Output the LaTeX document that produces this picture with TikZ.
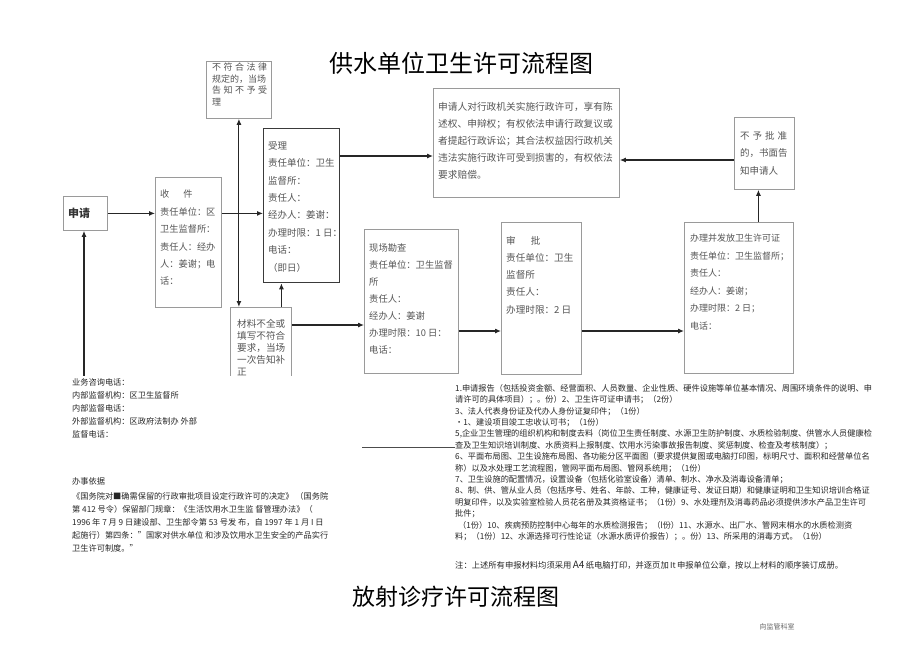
\documentclass[tikz,border=0pt]{standalone}
\usepackage{fontspec}
\setmainfont{Noto Sans CJK SC}
\usetikzlibrary{arrows.meta,calc,positioning}
\definecolor{FlowInk}{HTML}{555555}
\definecolor{FlowEdge}{HTML}{9A9A9A}
\definecolor{FlowDark}{HTML}{3A3A3A}
\newcommand{\stretchline}[2]{\makebox[#1][s]{#2}}

\begin{document}
\begin{tikzpicture}[
      x=1pt,y=-1pt,
      box/.style={draw=FlowEdge,line width=0.8pt,anchor=north west,inner sep=0pt},
      keybox/.style={draw=FlowDark,line width=1.3pt,anchor=north west,inner sep=0pt},
      boxtext/.style={anchor=north west,align=left,inner sep=0pt,text=FlowInk,
        font=\fontsize{9.5}{17.4}\selectfont},
      tighttext/.style={anchor=north west,align=left,inner sep=0pt,text=FlowInk,
        font=\fontsize{9}{11.6}\selectfont},
      flow/.style={-{Latex[length=6pt,width=5pt]},line width=1.1pt,color=black!85},
      infotext/.style={anchor=north west,align=left,inner sep=0pt,text=black!85,
        font=\fontsize{8.2}{13}\selectfont}
    ]
      \fill[white] (0,0) rectangle (920,651);
      \useasboundingbox (0,0) rectangle (920,651);

      \node[font=\fontsize{24}{24}\selectfont] (title) at (461,63) {供水单位卫生许可流程图};

      % flow boxes
      \node[box,minimum width=44,minimum height=34] (shenqing) at (63,196) {};
      \node[anchor=west,inner sep=0pt,text=black!80,font=\fontsize{11}{11}\selectfont\bfseries]
        (shenqingtext) at ($(shenqing.west)+(5,0)$) {申请};

      \node[box,minimum width=66,minimum height=130] (shoujian) at (155,177) {};
      \node[boxtext,font=\fontsize{9.2}{17.4}\selectfont] (shoujiantext)
        at ($(shoujian.north west)+(5,13)$)
        {收\hspace{14pt}件\\责任单位：区\\卫生监督所：\\责任人：经办\\人：姜谢；电\\话：};

      \node[box,minimum width=65,minimum height=57] (legal) at (206,61) {};
      \node[tighttext] (legaltext) at ($(legal.north west)+(6,2)$)
        {\stretchline{55pt}{不\hfill 符\hfill 合\hfill 法\hfill 律}\\规定的，当场\\
         \stretchline{55pt}{告\hfill 知\hfill 不\hfill 予\hfill 受}\\理};

      \node[keybox,minimum width=76,minimum height=154] (shouli) at (263,128) {};
      \node[boxtext] (shoulitext) at ($(shouli.north west)+(5,13)$)
        {受理\\责任单位：卫生\\监督所：\\责任人：\\经办人：姜谢：\\办理时限：1 日：\\电话：\\（即日）};

      \node[box,minimum width=186,minimum height=109] (shenqingren) at (433,88) {};
      \node[boxtext,font=\fontsize{9.7}{17}\selectfont] (shenqingrentext)
        at ($(shenqingren.north west)+(5,14)$)
        {申请人对行政机关实施行政许可，享有陈\\述权、申辩权；有权依法申请行政复议或\\
         者提起行政诉讼；其合法权益因行政机关\\违法实施行政许可受到损害的，有权依法\\要求赔偿。};

      \node[box,minimum width=60,minimum height=72] (buyu) at (734,117) {};
      \node[boxtext,font=\fontsize{9.5}{17.5}\selectfont] (buyutext)
        at ($(buyu.north west)+(6,14)$)
        {\stretchline{47pt}{不\hfill 予\hfill 批\hfill 准}\\的，书面告\\知申请人};

      \node[box,minimum width=94,minimum height=144] (xianchang) at (364,229) {};
      \node[boxtext,font=\fontsize{9.3}{17}\selectfont] (xianchangtext)
        at ($(xianchang.north west)+(5,14)$)
        {现场勘查\\责任单位：卫生监督\\所\\责任人：\\经办人：姜谢\\办理时限：10 日：\\电话：};

      \node[box,minimum width=80,minimum height=152] (shenpi) at (501,222) {};
      \node[boxtext,font=\fontsize{9.6}{17.2}\selectfont] (shenpitext)
        at ($(shenpi.north west)+(5,14)$)
        {审\hspace{15pt}批\\责任单位：卫生\\监督所\\责任人：\\办理时限：2 日};

      \node[box,minimum width=109,minimum height=151] (banli) at (684,222) {};
      \node[boxtext,font=\fontsize{9}{17.5}\selectfont] (banlitext)
        at ($(banli.north west)+(6,12)$)
        {办理并发放卫生许可证\\责任单位：卫生监督所；\\责任人：\\经办人：姜谢；\\办理时限：2 日；\\电话：};

      \begin{scope}
        \clip (0,0) rectangle (920,375);
        \node[box,minimum width=61,minimum height=90] (cailiao) at (230,307) {};
        \node[tighttext,font=\fontsize{9.6}{12}\selectfont] (cailiaotext)
          at ($(cailiao.north west)+(7,12)$)
          {材料不全或\\填写不符合\\要求，当场\\一次告知补\\正};
        \coordinate (applyfoot) at (84,380);
        \draw[flow] (applyfoot) -- (applyfoot |- shenqing.south);
      \end{scope}

      % connectors
      \draw[flow] (shenqing) -- (shenqing -| shoujian.west);
      \draw[flow] (shenqing -| shoujian.east) -- (shenqing -| shouli.west);
      \draw[flow,{Latex[length=6pt,width=5pt]}-{Latex[length=6pt,width=5pt]}]
        (legal.south) -- (legal.south |- cailiao.north);
      \coordinate (fixup) at ($(cailiao.north)+(20.5,0)$);
      \draw[flow] (fixup) -- (fixup |- shouli.south);
      \coordinate (fixright) at ($(cailiao.north east)+(0,18)$);
      \draw[flow] (fixright) -- (fixright -| xianchang.west);
      \coordinate (checkrow) at (0,331);
      \draw[flow] (xianchang.east |- checkrow) -- (shenpi.west |- checkrow);
      \draw[flow] (shenpi.east |- checkrow) -- (banli.west |- checkrow);
      \coordinate (rightsrow) at (0,156);
      \draw[flow] (shouli.east |- rightsrow) -- (shenqingren.west |- rightsrow);
      \coordinate (denyrow) at (0,160);
      \draw[flow] (buyu.west |- denyrow) -- (shenqingren.east |- denyrow);
      \coordinate (banliup) at ($(banli.north)+(19.5,0)$);
      \draw[flow] (banliup) -- (banliup |- buyu.south);

      % text below the flow
      \node[infotext] (contact) at (72,378)
        {业务咨询电话：\\内部监督机构：区卫生监督所\\内部监督电话：\\
         外部监督机构：区政府法制办 外部\\监督电话：};
      \node[infotext] (basis) at (72,477)
        {办事依据\\[2pt]
         《国务院对■确需保留的行政审批项目设定行政许可的决定》 （国务院\\
         第 412 号令）保留部门规章：《生活饮用水卫生监 督管理办法》（\\
         1996 年 7 月 9 日建设部、卫生部令第 53 号发 布，自 1997 年 1 月 I 日\\
         起施行）第四条：”国家对供水单位 和涉及饮用水卫生安全的产品实行\\
         卫生许可制度。”};

      \node[infotext,font=\fontsize{8.2}{11.4}\selectfont] (reqlist) at (455,384)
        {1.申请报告（包括投资金额、经营面积、人员数量、企业性质、硬件设施等单位基本情况、周围环境条件的说明、申\\
         请许可的具体项目）；。份）2、卫生许可证申请书；（2份）\\
         3、法人代表身份证及代办人身份证复印件；（1份）\\
         •1、建设项目竣工忠收认可书；（1份）\\
         5,企业卫生管理的组织机构和制度去料（岗位卫生责任制度、水源卫生防护制度、水质检验制度、供管水人员健康检\\
         查及卫生知识培训制度、水质资料上报制度、饮用水污染事故报告制度、奖惩制度、检查及考核制度）；\\
         6、平面布局图、卫生设施布局图、各功能分区平面图（要求提供复图或电脑打印图，标明尺寸、面积和经营单位名\\
         称）以及水处理工艺流程图，管网平面布局图、管网系统用；（1份）\\
         7、卫生设施的配置情况，设置设备（包括化验室设备）清单、制水、净水及消毒设备清单；\\
         8、制、供、管从业人员（包括序号、姓名、年龄、工种，健康证号、发证日期）和健康证明和卫生知识培训合格证\\
         明复印件，以及实验室检验人员花名册及其资格证书；（1份）9、水处理剂及消毒药品必须提供涉水产品卫生许可\\
         批件；\\
         \hspace{3pt}（1份）10、疾病预防控制中心每年的水质检测报告；（l份）11、水源水、出厂水、管网末梢水的水质检测资\\
         料；（1份）12、水源选择可行性论证（水源水质评价报告）；。份）13、所采用的消毒方式。（1份）};
      \coordinate (strayend) at (362,447);
      \draw[line width=0.6pt,black!70] (strayend) -- (strayend -| reqlist.west);

      \node[infotext,font=\fontsize{8.3}{10}\selectfont] (remark) at (455,561)
        {注：上述所有申报材料均须采用\,{\fontsize{10}{10}\selectfont A4}\,纸电脑打印，并逐页加\,It\,申报单位公章，按以上材料的顺序装订成册。};

      \node[font=\fontsize{23}{23}\selectfont] (title2) at (456,597) {放射诊疗许可流程图};
      \node[font=\fontsize{7}{7}\selectfont,text=black!60] (office) at (777,627) {向监管科室};
    \end{tikzpicture}
\end{document}
